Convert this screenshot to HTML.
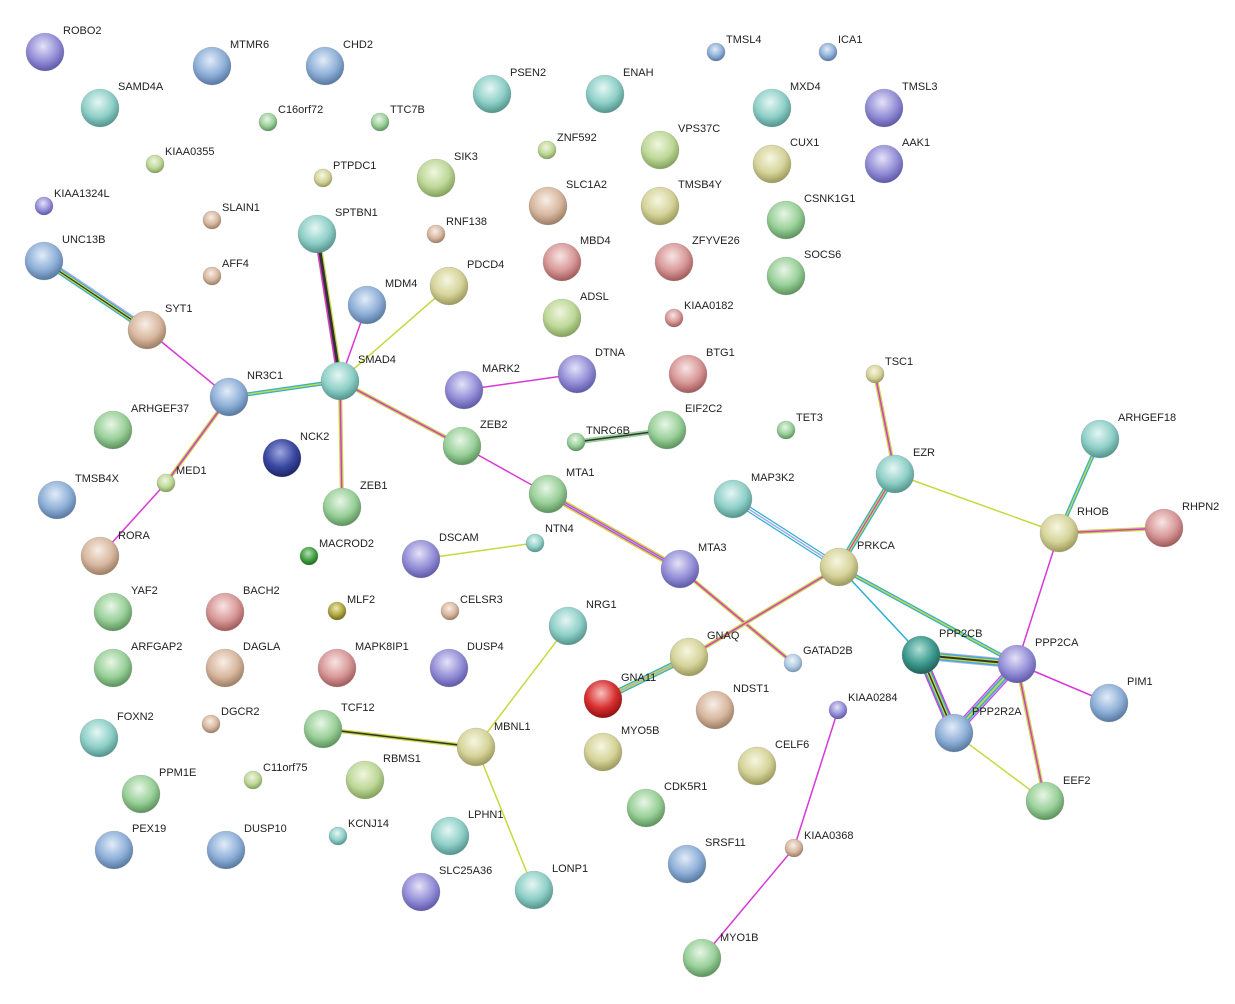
<!DOCTYPE html>
<html><head><meta charset="utf-8"><style>
html,body{margin:0;padding:0;background:#fff;}
svg{display:block;}
text{font-family:"Liberation Sans",Arial,sans-serif;font-size:11px;fill:#222;}
</style></head><body>
<svg width="1235" height="1004" viewBox="0 0 1235 1004" xmlns="http://www.w3.org/2000/svg">
<defs>
<radialGradient id="pu" cx="45%" cy="35%" r="65%"><stop offset="0" stop-color="#e4e2f8"/><stop offset="0.6" stop-color="#9590d8"/><stop offset="1" stop-color="#5e58a8"/></radialGradient>
<radialGradient id="bl" cx="45%" cy="35%" r="65%"><stop offset="0" stop-color="#e2ecf8"/><stop offset="0.6" stop-color="#8fb0d8"/><stop offset="1" stop-color="#56789f"/></radialGradient>
<radialGradient id="te" cx="45%" cy="35%" r="65%"><stop offset="0" stop-color="#e6f6f4"/><stop offset="0.6" stop-color="#8fd0c8"/><stop offset="1" stop-color="#52938c"/></radialGradient>
<radialGradient id="gr" cx="45%" cy="35%" r="65%"><stop offset="0" stop-color="#e8f6e6"/><stop offset="0.6" stop-color="#9ad09a"/><stop offset="1" stop-color="#5b925b"/></radialGradient>
<radialGradient id="ye" cx="45%" cy="35%" r="65%"><stop offset="0" stop-color="#f6f6e2"/><stop offset="0.6" stop-color="#d6d49a"/><stop offset="1" stop-color="#9a985a"/></radialGradient>
<radialGradient id="yg" cx="45%" cy="35%" r="65%"><stop offset="0" stop-color="#f0f6e0"/><stop offset="0.6" stop-color="#bed898"/><stop offset="1" stop-color="#82a05a"/></radialGradient>
<radialGradient id="ta" cx="45%" cy="35%" r="65%"><stop offset="0" stop-color="#f8eee6"/><stop offset="0.6" stop-color="#d8b8a0"/><stop offset="1" stop-color="#9c7c62"/></radialGradient>
<radialGradient id="pk" cx="45%" cy="35%" r="65%"><stop offset="0" stop-color="#f8e4e4"/><stop offset="0.6" stop-color="#d89898"/><stop offset="1" stop-color="#a05858"/></radialGradient>
<radialGradient id="re" cx="45%" cy="35%" r="65%"><stop offset="0" stop-color="#f8c0c0"/><stop offset="0.6" stop-color="#d83030"/><stop offset="1" stop-color="#901010"/></radialGradient>
<radialGradient id="db" cx="45%" cy="35%" r="65%"><stop offset="0" stop-color="#a0a8e0"/><stop offset="0.6" stop-color="#3a48a0"/><stop offset="1" stop-color="#1c2468"/></radialGradient>
<radialGradient id="dt" cx="45%" cy="35%" r="65%"><stop offset="0" stop-color="#b0e0d8"/><stop offset="0.6" stop-color="#3e9a8e"/><stop offset="1" stop-color="#1e6058"/></radialGradient>
<radialGradient id="ol" cx="45%" cy="35%" r="65%"><stop offset="0" stop-color="#eeeab0"/><stop offset="0.6" stop-color="#b0a840"/><stop offset="1" stop-color="#706818"/></radialGradient>
<radialGradient id="dg" cx="45%" cy="35%" r="65%"><stop offset="0" stop-color="#b0e0b0"/><stop offset="0.6" stop-color="#44a044"/><stop offset="1" stop-color="#1e6a1e"/></radialGradient>
<radialGradient id="lb" cx="45%" cy="35%" r="65%"><stop offset="0" stop-color="#eef4fa"/><stop offset="0.6" stop-color="#b0cce4"/><stop offset="1" stop-color="#7896b0"/></radialGradient>
</defs>

<g fill="none" stroke-linecap="round">
<!-- UNC13B-SYT1 -->
<line x1="44" y1="261" x2="147" y2="330" stroke="#30b0d0" stroke-width="6"/>
<line x1="44" y1="261" x2="147" y2="330" stroke="#c8d840" stroke-width="3.5"/>
<line x1="44" y1="261" x2="147" y2="330" stroke="#333" stroke-width="1.2"/>
<line x1="46" y1="258" x2="149" y2="327" stroke="#a8a8ee" stroke-width="1.2"/>
<line x1="147" y1="330" x2="229" y2="397" stroke="#d838d8" stroke-width="1.5"/>
<!-- NR3C1-SMAD4 -->
<line x1="229" y1="397" x2="340" y2="381" stroke="#30b0d0" stroke-width="4"/>
<line x1="229" y1="397" x2="340" y2="381" stroke="#c8d840" stroke-width="1.5"/>
<line x1="229" y1="397" x2="166" y2="483" stroke="#c8d840" stroke-width="4"/>
<line x1="229" y1="397" x2="166" y2="483" stroke="#d838d8" stroke-width="1.5"/>
<line x1="166" y1="483" x2="100" y2="556" stroke="#d838d8" stroke-width="1.5"/>
<!-- SPTBN1-SMAD4 -->
<line x1="317" y1="234" x2="340" y2="381" stroke="#c8d840" stroke-width="6"/>
<line x1="317" y1="234" x2="340" y2="381" stroke="#333" stroke-width="3.5"/>
<line x1="315" y1="234" x2="338" y2="381" stroke="#d838d8" stroke-width="1.5"/>
<line x1="367" y1="305" x2="340" y2="381" stroke="#d838d8" stroke-width="1.5"/>
<line x1="449" y1="286" x2="340" y2="381" stroke="#c8d840" stroke-width="1.5"/>
<line x1="340" y1="381" x2="462" y2="446" stroke="#c8d840" stroke-width="4"/>
<line x1="340" y1="381" x2="462" y2="446" stroke="#d838d8" stroke-width="1.5"/>
<line x1="340" y1="381" x2="342" y2="507" stroke="#c8d840" stroke-width="4"/>
<line x1="340" y1="381" x2="342" y2="507" stroke="#d838d8" stroke-width="1.5"/>
<line x1="462" y1="446" x2="548" y2="494" stroke="#d838d8" stroke-width="1.5"/>
<line x1="464" y1="390" x2="577" y2="374" stroke="#d838d8" stroke-width="1.5"/>
<!-- TNRC6B-EIF2C2 -->
<line x1="576" y1="442" x2="667" y2="430" stroke="#9ad09a" stroke-width="5"/>
<line x1="576" y1="442" x2="667" y2="430" stroke="#333" stroke-width="1.5"/>
<!-- MTA1-MTA3 -->
<line x1="548" y1="494" x2="680" y2="569" stroke="#c8d840" stroke-width="6"/>
<line x1="548" y1="494" x2="680" y2="569" stroke="#d838d8" stroke-width="3"/>
<line x1="548" y1="494" x2="680" y2="569" stroke="#a8a8ee" stroke-width="1"/>
<line x1="680" y1="569" x2="793" y2="663" stroke="#c8d840" stroke-width="4"/>
<line x1="680" y1="569" x2="793" y2="663" stroke="#d838d8" stroke-width="1.5"/>
<line x1="421" y1="559" x2="535" y2="543" stroke="#c8d840" stroke-width="1.5"/>
<line x1="568" y1="626" x2="476" y2="747" stroke="#c8d840" stroke-width="1.5"/>
<line x1="476" y1="747" x2="534" y2="890" stroke="#c8d840" stroke-width="1.5"/>
<line x1="323" y1="729" x2="476" y2="747" stroke="#c8d840" stroke-width="4"/>
<line x1="323" y1="729" x2="476" y2="747" stroke="#333" stroke-width="1.5"/>
<!-- GNA11-GNAQ -->
<line x1="603" y1="699" x2="689" y2="657" stroke="#30b0d0" stroke-width="6"/>
<line x1="603" y1="699" x2="689" y2="657" stroke="#c8d840" stroke-width="3.5"/>
<line x1="603" y1="699" x2="689" y2="657" stroke="#a8a8ee" stroke-width="1.2"/>
<line x1="689" y1="657" x2="839" y2="567" stroke="#c8d840" stroke-width="4"/>
<line x1="689" y1="657" x2="839" y2="567" stroke="#d838d8" stroke-width="1.5"/>
<line x1="733" y1="499" x2="839" y2="567" stroke="#30b0d0" stroke-width="6"/>
<line x1="733" y1="499" x2="839" y2="567" stroke="#fff" stroke-width="3.5"/>
<line x1="733" y1="499" x2="839" y2="567" stroke="#a8a8ee" stroke-width="1.5"/>
<line x1="895" y1="474" x2="839" y2="567" stroke="#30b0d0" stroke-width="6"/>
<line x1="895" y1="474" x2="839" y2="567" stroke="#c8d840" stroke-width="3.5"/>
<line x1="895" y1="474" x2="839" y2="567" stroke="#d838d8" stroke-width="1.2"/>
<line x1="875" y1="374" x2="895" y2="474" stroke="#c8d840" stroke-width="4"/>
<line x1="875" y1="374" x2="895" y2="474" stroke="#d838d8" stroke-width="1.5"/>
<line x1="895" y1="474" x2="1059" y2="533" stroke="#c8d840" stroke-width="1.5"/>
<line x1="1100" y1="439" x2="1059" y2="533" stroke="#30b0d0" stroke-width="4"/>
<line x1="1100" y1="439" x2="1059" y2="533" stroke="#c8d840" stroke-width="1.5"/>
<line x1="1059" y1="533" x2="1164" y2="528" stroke="#c8d840" stroke-width="4"/>
<line x1="1059" y1="533" x2="1164" y2="528" stroke="#d838d8" stroke-width="1.5"/>
<line x1="1059" y1="533" x2="1017" y2="664" stroke="#d838d8" stroke-width="1.5"/>
<line x1="839" y1="567" x2="921" y2="655" stroke="#30b0d0" stroke-width="1.5"/>
<line x1="839" y1="567" x2="1017" y2="664" stroke="#30b0d0" stroke-width="4"/>
<line x1="839" y1="567" x2="1017" y2="664" stroke="#c8d840" stroke-width="1.5"/>
<!-- PPP2 cluster -->
<line x1="921" y1="655" x2="1017" y2="664" stroke="#a8a8ee" stroke-width="9"/>
<line x1="921" y1="655" x2="1017" y2="664" stroke="#30b0d0" stroke-width="7"/>
<line x1="921" y1="655" x2="1017" y2="664" stroke="#c8d840" stroke-width="4.5"/>
<line x1="921" y1="655" x2="1017" y2="664" stroke="#333" stroke-width="2"/>
<line x1="921" y1="655" x2="954" y2="733" stroke="#d838d8" stroke-width="9"/>
<line x1="921" y1="655" x2="954" y2="733" stroke="#30b0d0" stroke-width="6.5"/>
<line x1="921" y1="655" x2="954" y2="733" stroke="#c8d840" stroke-width="4"/>
<line x1="921" y1="655" x2="954" y2="733" stroke="#333" stroke-width="1.5"/>
<line x1="1017" y1="664" x2="954" y2="733" stroke="#d838d8" stroke-width="9"/>
<line x1="1017" y1="664" x2="954" y2="733" stroke="#a8a8ee" stroke-width="7"/>
<line x1="1017" y1="664" x2="954" y2="733" stroke="#30b0d0" stroke-width="4.5"/>
<line x1="1017" y1="664" x2="954" y2="733" stroke="#c8d840" stroke-width="2"/>
<line x1="954" y1="733" x2="1045" y2="801" stroke="#c8d840" stroke-width="1.5"/>
<line x1="1017" y1="664" x2="1045" y2="801" stroke="#c8d840" stroke-width="4"/>
<line x1="1017" y1="664" x2="1045" y2="801" stroke="#d838d8" stroke-width="1.5"/>
<line x1="1017" y1="664" x2="1109" y2="703" stroke="#d838d8" stroke-width="1.5"/>
<line x1="838" y1="710" x2="794" y2="848" stroke="#d838d8" stroke-width="1.5"/>
<line x1="794" y1="848" x2="702" y2="958" stroke="#d838d8" stroke-width="1.5"/>
</g>

<g stroke="#777" stroke-opacity="0.35" stroke-width="0.6">
<circle cx="45" cy="52" r="19" fill="url(#pu)"/>
<circle cx="212" cy="66" r="19" fill="url(#bl)"/>
<circle cx="325" cy="66" r="19" fill="url(#bl)"/>
<circle cx="100" cy="108" r="19" fill="url(#te)"/>
<circle cx="492" cy="94" r="19" fill="url(#te)"/>
<circle cx="605" cy="94" r="19" fill="url(#te)"/>
<circle cx="772" cy="108" r="19" fill="url(#te)"/>
<circle cx="884" cy="108" r="19" fill="url(#pu)"/>
<circle cx="660" cy="150" r="19" fill="url(#yg)"/>
<circle cx="772" cy="164" r="19" fill="url(#ye)"/>
<circle cx="884" cy="164" r="19" fill="url(#pu)"/>
<circle cx="436" cy="178" r="19" fill="url(#yg)"/>
<circle cx="548" cy="206" r="19" fill="url(#ta)"/>
<circle cx="660" cy="206" r="19" fill="url(#ye)"/>
<circle cx="786" cy="220" r="19" fill="url(#gr)"/>
<circle cx="317" cy="234" r="19" fill="url(#te)"/>
<circle cx="562" cy="262" r="19" fill="url(#pk)"/>
<circle cx="674" cy="262" r="19" fill="url(#pk)"/>
<circle cx="786" cy="276" r="19" fill="url(#gr)"/>
<circle cx="44" cy="261" r="19" fill="url(#bl)"/>
<circle cx="367" cy="305" r="19" fill="url(#bl)"/>
<circle cx="449" cy="286" r="19" fill="url(#ye)"/>
<circle cx="562" cy="318" r="19" fill="url(#yg)"/>
<circle cx="147" cy="330" r="19" fill="url(#ta)"/>
<circle cx="340" cy="381" r="19" fill="url(#te)"/>
<circle cx="464" cy="390" r="19" fill="url(#pu)"/>
<circle cx="577" cy="374" r="19" fill="url(#pu)"/>
<circle cx="688" cy="374" r="19" fill="url(#pk)"/>
<circle cx="229" cy="397" r="19" fill="url(#bl)"/>
<circle cx="113" cy="430" r="19" fill="url(#gr)"/>
<circle cx="667" cy="430" r="19" fill="url(#gr)"/>
<circle cx="462" cy="446" r="19" fill="url(#gr)"/>
<circle cx="282" cy="458" r="19" fill="url(#db)"/>
<circle cx="57" cy="500" r="19" fill="url(#bl)"/>
<circle cx="342" cy="507" r="19" fill="url(#gr)"/>
<circle cx="548" cy="494" r="19" fill="url(#gr)"/>
<circle cx="733" cy="499" r="19" fill="url(#te)"/>
<circle cx="895" cy="474" r="19" fill="url(#te)"/>
<circle cx="1100" cy="439" r="19" fill="url(#te)"/>
<circle cx="1059" cy="533" r="19" fill="url(#ye)"/>
<circle cx="1164" cy="528" r="19" fill="url(#pk)"/>
<circle cx="100" cy="556" r="19" fill="url(#ta)"/>
<circle cx="421" cy="559" r="19" fill="url(#pu)"/>
<circle cx="680" cy="569" r="19" fill="url(#pu)"/>
<circle cx="839" cy="567" r="19" fill="url(#ye)"/>
<circle cx="113" cy="612" r="19" fill="url(#gr)"/>
<circle cx="225" cy="612" r="19" fill="url(#pk)"/>
<circle cx="568" cy="626" r="19" fill="url(#te)"/>
<circle cx="689" cy="657" r="19" fill="url(#ye)"/>
<circle cx="921" cy="655" r="19" fill="url(#dt)"/>
<circle cx="1017" cy="664" r="19" fill="url(#pu)"/>
<circle cx="113" cy="668" r="19" fill="url(#gr)"/>
<circle cx="225" cy="668" r="19" fill="url(#ta)"/>
<circle cx="337" cy="668" r="19" fill="url(#pk)"/>
<circle cx="449" cy="668" r="19" fill="url(#pu)"/>
<circle cx="603" cy="699" r="19" fill="url(#re)"/>
<circle cx="715" cy="710" r="19" fill="url(#ta)"/>
<circle cx="1109" cy="703" r="19" fill="url(#bl)"/>
<circle cx="954" cy="733" r="19" fill="url(#bl)"/>
<circle cx="99" cy="738" r="19" fill="url(#te)"/>
<circle cx="323" cy="729" r="19" fill="url(#gr)"/>
<circle cx="476" cy="747" r="19" fill="url(#ye)"/>
<circle cx="603" cy="752" r="19" fill="url(#ye)"/>
<circle cx="757" cy="766" r="19" fill="url(#ye)"/>
<circle cx="365" cy="780" r="19" fill="url(#yg)"/>
<circle cx="141" cy="794" r="19" fill="url(#gr)"/>
<circle cx="1045" cy="801" r="19" fill="url(#gr)"/>
<circle cx="646" cy="808" r="19" fill="url(#gr)"/>
<circle cx="450" cy="836" r="19" fill="url(#te)"/>
<circle cx="114" cy="850" r="19" fill="url(#bl)"/>
<circle cx="226" cy="850" r="19" fill="url(#bl)"/>
<circle cx="687" cy="864" r="19" fill="url(#bl)"/>
<circle cx="421" cy="892" r="19" fill="url(#pu)"/>
<circle cx="534" cy="890" r="19" fill="url(#te)"/>
<circle cx="702" cy="958" r="19" fill="url(#gr)"/>
<!-- small -->
<circle cx="268" cy="122" r="9" fill="url(#gr)"/>
<circle cx="380" cy="122" r="9" fill="url(#gr)"/>
<circle cx="547" cy="150" r="9" fill="url(#yg)"/>
<circle cx="155" cy="164" r="9" fill="url(#yg)"/>
<circle cx="323" cy="178" r="9" fill="url(#ye)"/>
<circle cx="44" cy="206" r="9" fill="url(#pu)"/>
<circle cx="212" cy="220" r="9" fill="url(#ta)"/>
<circle cx="436" cy="234" r="9" fill="url(#ta)"/>
<circle cx="212" cy="276" r="9" fill="url(#ta)"/>
<circle cx="674" cy="318" r="9" fill="url(#pk)"/>
<circle cx="716" cy="52" r="9" fill="url(#bl)"/>
<circle cx="828" cy="52" r="9" fill="url(#bl)"/>
<circle cx="875" cy="374" r="9" fill="url(#ye)"/>
<circle cx="786" cy="430" r="9" fill="url(#gr)"/>
<circle cx="576" cy="442" r="9" fill="url(#gr)"/>
<circle cx="166" cy="483" r="9" fill="url(#yg)"/>
<circle cx="535" cy="543" r="9" fill="url(#te)"/>
<circle cx="309" cy="556" r="9" fill="url(#dg)"/>
<circle cx="337" cy="611" r="9" fill="url(#ol)"/>
<circle cx="450" cy="611" r="9" fill="url(#ta)"/>
<circle cx="793" cy="663" r="9" fill="url(#lb)"/>
<circle cx="838" cy="710" r="9" fill="url(#pu)"/>
<circle cx="211" cy="724" r="9" fill="url(#ta)"/>
<circle cx="253" cy="780" r="9" fill="url(#yg)"/>
<circle cx="338" cy="836" r="9" fill="url(#te)"/>
<circle cx="794" cy="848" r="9" fill="url(#ta)"/>
</g>

<g>
<text x="63" y="34">ROBO2</text>
<text x="230" y="48">MTMR6</text>
<text x="343" y="48">CHD2</text>
<text x="118" y="90">SAMD4A</text>
<text x="510" y="76">PSEN2</text>
<text x="623" y="76">ENAH</text>
<text x="790" y="90">MXD4</text>
<text x="902" y="90">TMSL3</text>
<text x="678" y="132">VPS37C</text>
<text x="790" y="146">CUX1</text>
<text x="902" y="146">AAK1</text>
<text x="454" y="160">SIK3</text>
<text x="566" y="188">SLC1A2</text>
<text x="678" y="188">TMSB4Y</text>
<text x="804" y="202">CSNK1G1</text>
<text x="335" y="216">SPTBN1</text>
<text x="580" y="244">MBD4</text>
<text x="692" y="244">ZFYVE26</text>
<text x="804" y="258">SOCS6</text>
<text x="62" y="243">UNC13B</text>
<text x="385" y="287">MDM4</text>
<text x="467" y="268">PDCD4</text>
<text x="580" y="300">ADSL</text>
<text x="165" y="312">SYT1</text>
<text x="358" y="363">SMAD4</text>
<text x="482" y="372">MARK2</text>
<text x="595" y="356">DTNA</text>
<text x="706" y="356">BTG1</text>
<text x="247" y="379">NR3C1</text>
<text x="131" y="412">ARHGEF37</text>
<text x="685" y="412">EIF2C2</text>
<text x="480" y="428">ZEB2</text>
<text x="300" y="440">NCK2</text>
<text x="75" y="482">TMSB4X</text>
<text x="360" y="489">ZEB1</text>
<text x="566" y="476">MTA1</text>
<text x="751" y="481">MAP3K2</text>
<text x="913" y="456">EZR</text>
<text x="1118" y="421">ARHGEF18</text>
<text x="1077" y="515">RHOB</text>
<text x="1182" y="510">RHPN2</text>
<text x="118" y="539">RORA</text>
<text x="439" y="541">DSCAM</text>
<text x="698" y="551">MTA3</text>
<text x="857" y="549">PRKCA</text>
<text x="131" y="594">YAF2</text>
<text x="243" y="594">BACH2</text>
<text x="586" y="608">NRG1</text>
<text x="707" y="639">GNAQ</text>
<text x="939" y="637">PPP2CB</text>
<text x="1035" y="646">PPP2CA</text>
<text x="131" y="650">ARFGAP2</text>
<text x="243" y="650">DAGLA</text>
<text x="355" y="650">MAPK8IP1</text>
<text x="467" y="650">DUSP4</text>
<text x="621" y="681">GNA11</text>
<text x="733" y="692">NDST1</text>
<text x="1127" y="685">PIM1</text>
<text x="972" y="715">PPP2R2A</text>
<text x="117" y="720">FOXN2</text>
<text x="341" y="711">TCF12</text>
<text x="494" y="730">MBNL1</text>
<text x="621" y="734">MYO5B</text>
<text x="775" y="748">CELF6</text>
<text x="383" y="762">RBMS1</text>
<text x="159" y="776">PPM1E</text>
<text x="1063" y="784">EEF2</text>
<text x="664" y="790">CDK5R1</text>
<text x="468" y="818">LPHN1</text>
<text x="132" y="832">PEX19</text>
<text x="244" y="832">DUSP10</text>
<text x="705" y="846">SRSF11</text>
<text x="439" y="874">SLC25A36</text>
<text x="552" y="872">LONP1</text>
<text x="720" y="941">MYO1B</text>
<text x="278" y="113">C16orf72</text>
<text x="390" y="113">TTC7B</text>
<text x="557" y="141">ZNF592</text>
<text x="165" y="155">KIAA0355</text>
<text x="333" y="169">PTPDC1</text>
<text x="54" y="197">KIAA1324L</text>
<text x="222" y="211">SLAIN1</text>
<text x="446" y="225">RNF138</text>
<text x="222" y="267">AFF4</text>
<text x="684" y="309">KIAA0182</text>
<text x="726" y="43">TMSL4</text>
<text x="838" y="43">ICA1</text>
<text x="885" y="365">TSC1</text>
<text x="796" y="421">TET3</text>
<text x="586" y="434">TNRC6B</text>
<text x="176" y="474">MED1</text>
<text x="545" y="532">NTN4</text>
<text x="319" y="547">MACROD2</text>
<text x="347" y="603">MLF2</text>
<text x="460" y="603">CELSR3</text>
<text x="803" y="654">GATAD2B</text>
<text x="848" y="701">KIAA0284</text>
<text x="221" y="715">DGCR2</text>
<text x="263" y="771">C11orf75</text>
<text x="348" y="827">KCNJ14</text>
<text x="804" y="839">KIAA0368</text>
</g>
</svg>
</body></html>
